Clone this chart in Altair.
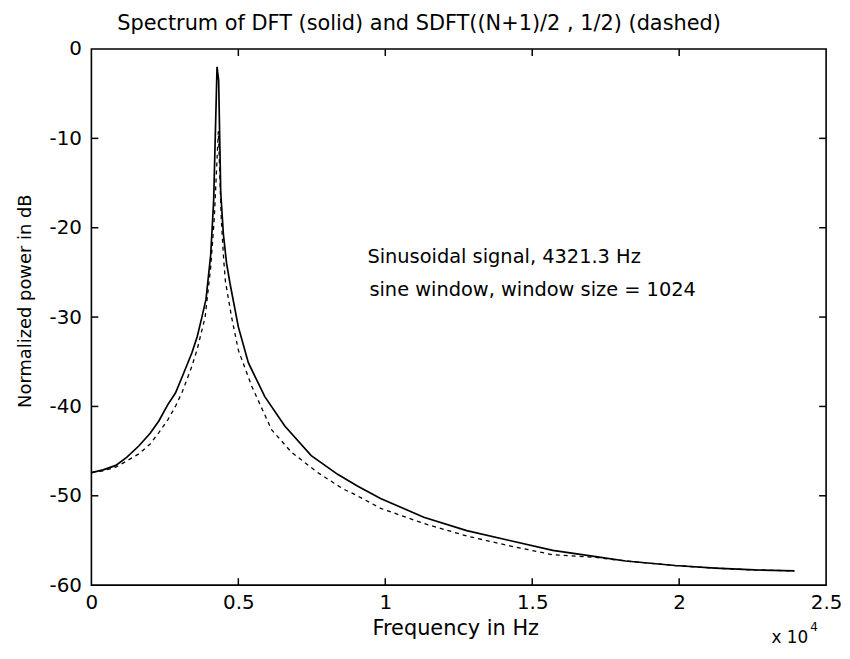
import altair as alt
import pandas as pd

# DFT spectrum (solid), frequency in Hz, normalized power in dB
freq_dft = [0, 400, 830, 1200, 1620, 2000, 2300, 2600, 2860, 3100, 3420, 3600, 3760,
            3900, 4060, 4160, 4275, 4330, 4400, 4490, 4600, 4720, 5000, 5340, 5900,
            6580, 7480, 8380, 9050, 9840, 11310, 12770, 14230, 15700, 17160, 18180,
            19860, 21220, 22570, 23920]
db_dft = [-47.4, -47.1, -46.6, -45.7, -44.4, -43.0, -41.6, -39.8, -38.5, -36.6, -34.0,
          -32.2, -30.0, -28.0, -23.0, -17.0, -2.0, -3.5, -16.0, -20.7, -24.0, -26.3,
          -31.1, -35.1, -38.9, -42.2, -45.5, -47.6, -48.9, -50.3, -52.4, -53.9, -55.0,
          -56.1, -56.8, -57.3, -57.8, -58.1, -58.3, -58.4]

# SDFT((N+1)/2, 1/2) spectrum (dashed)
freq_sdft = [0, 400, 830, 1200, 1620, 2000, 2300, 2600, 2860, 3100, 3420, 3600, 3870,
             4060, 4180, 4320, 4420, 4500, 4560, 4770, 5000, 5450, 6130, 6800, 7700,
             8550, 9050, 9840, 11310, 12770, 14230, 15700, 17160, 18180, 19860, 21220,
             22570, 23920]
db_sdft = [-47.4, -47.2, -46.8, -46.1, -45.3, -44.2, -42.9, -41.5, -40.0, -38.3, -35.5,
           -33.6, -30.0, -24.4, -19.0, -9.2, -19.0, -23.5, -26.0, -30.0, -33.7, -37.7,
           -42.6, -45.1, -47.4, -49.2, -50.0, -51.4, -53.1, -54.5, -55.6, -56.6, -56.9,
           -57.3, -57.8, -58.1, -58.3, -58.4]

x_ticks = [0, 5000, 10000, 15000, 20000, 25000]
y_ticks = [-60, -50, -40, -30, -20, -10, 0]
x_inner = [5000, 10000, 15000, 20000]
y_inner = [-50, -40, -30, -20, -10]

title_text = "Spectrum of DFT (solid) and SDFT((N+1)/2 , 1/2) (dashed)"
xlabel_text = "Frequency in Hz"
ylabel_text = "Normalized power in dB"
note1 = "Sinusoidal signal, 4321.3 Hz"
note2 = "sine window, window size = 1024"

W, H = 740, 540
FONT = "DejaVu Sans"

df_dft = pd.DataFrame({"f": freq_dft, "db": db_dft})
df_sdft = pd.DataFrame({"f": freq_sdft, "db": db_sdft})
df_xt = pd.DataFrame({"f": x_inner})
df_yt = pd.DataFrame({"db": y_inner})

xscale = alt.Scale(domain=[0, 25000], nice=False, zero=False)
yscale = alt.Scale(domain=[-60, 0], nice=False, zero=False)

xaxis = alt.Axis(values=x_ticks, labelExpr="toString(datum.value/10000)", ticks=False,
                 domain=False, grid=False, title=None, labelFont=FONT, labelFontSize=20,
                 labelColor="black", labelPadding=8, labelFlush=False)
yaxis = alt.Axis(values=y_ticks, labelExpr="toString(datum.value)", ticks=False,
                 domain=False, grid=False, title=None, labelFont=FONT, labelFontSize=20,
                 labelColor="black", labelPadding=10)

solid = alt.Chart(df_dft).mark_line(color="black", strokeWidth=1.7).encode(
    x=alt.X("f:Q", scale=xscale, axis=xaxis),
    y=alt.Y("db:Q", scale=yscale, axis=yaxis),
)
dashed = alt.Chart(df_sdft).mark_line(color="black", strokeWidth=1.3, strokeDash=[4, 4]).encode(
    x=alt.X("f:Q", scale=xscale),
    y=alt.Y("db:Q", scale=yscale),
)

tick_bottom = alt.Chart(df_xt).mark_rule(color="black", strokeWidth=1.5).encode(
    x=alt.X("f:Q", scale=xscale), y=alt.value(H), y2=alt.value(H - 7))
tick_top = alt.Chart(df_xt).mark_rule(color="black", strokeWidth=1.5).encode(
    x=alt.X("f:Q", scale=xscale), y=alt.value(0), y2=alt.value(7))
tick_left = alt.Chart(df_yt).mark_rule(color="black", strokeWidth=1.5).encode(
    y=alt.Y("db:Q", scale=yscale), x=alt.value(0), x2=alt.value(7))
tick_right = alt.Chart(df_yt).mark_rule(color="black", strokeWidth=1.5).encode(
    y=alt.Y("db:Q", scale=yscale), x=alt.value(W), x2=alt.value(W - 7))

def txt(s, x, y, size=20, align="left", angle=0):
    kw = dict(font=FONT, fontSize=size, color="black", align=align, baseline="middle")
    if angle:
        kw["angle"] = angle
    return alt.Chart(pd.DataFrame({"t": [s]})).mark_text(**kw).encode(
        text="t:N", x=alt.value(x), y=alt.value(y))

texts = [
    txt(note1, 278, 210, 19.5),
    txt(note2, 280, 243, 19.5),
    txt(title_text, 330, -25, 21, "center"),
    txt(xlabel_text, 367, 584, 21, "center"),
    txt(ylabel_text, -66, 254, 18, "center", 270),
    txt("x 10", 685, 593, 17),
    txt("4", 724, 582, 12),
]

chart = alt.layer(solid, dashed, tick_bottom, tick_top, tick_left, tick_right, *texts).properties(
    width=W, height=H,
    autosize=alt.AutoSizeParams(type="none"),
    padding={"left": 84, "top": 39, "right": 16, "bottom": 60},
    background="white",
).configure_view(stroke="black", strokeWidth=1.6)

chart.save("out.html", embed_options={"renderer": "svg", "actions": False})
